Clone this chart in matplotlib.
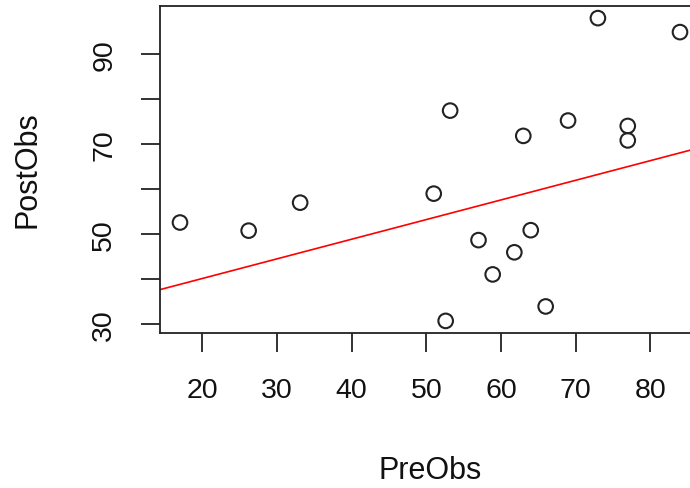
import matplotlib
matplotlib.use("Agg")
import matplotlib.pyplot as plt
import numpy as np

plt.rcParams['font.family'] = ['Liberation Sans', 'DejaVu Sans']

pre_obs = [17, 26.2, 33.1, 51, 53.2, 52.6, 57, 58.9, 61.8, 64, 66, 63, 69, 73, 84, 77, 77]
post_obs = [52.6, 50.8, 57.0, 59.0, 77.4, 30.8, 48.7, 41.1, 46.0, 50.9, 34.0, 71.8, 75.2, 97.9, 94.8, 74.0, 70.8]
line_intercept = 31.5
line_slope = 0.435
x_ticks = [20, 30, 40, 50, 60, 70, 80]
y_ticks = [30, 40, 50, 60, 70, 80, 90]
y_tick_labels = ['30', '', '50', '', '70', '', '90']

W, H = 690, 489
fig = plt.figure(figsize=(W / 100, H / 100), dpi=100)
left, right, top, bottom = 160, 700, 7, 334
ax = fig.add_axes([left / W, 1 - bottom / H, (right - left) / W, (bottom - top) / H])

x = np.array(pre_obs)
y = np.array(post_obs)
xr = x.max() - x.min()
yr = y.max() - y.min()
xlim = (x.min() - 0.04 * xr, x.max() + 0.04 * xr)
ylim = (y.min() - 0.04 * yr, y.max() + 0.04 * yr)

ax.scatter(x, y, s=110, facecolors='none', edgecolors='#222222', linewidths=1.5, zorder=3)
xs = np.array(xlim)
ax.plot(xs, line_intercept + line_slope * xs, color='#ff0000', lw=1.2, zorder=2)

ax.set_xlim(xlim)
ax.set_ylim(ylim)

for side in ['left', 'bottom', 'top', 'right']:
    ax.spines[side].set_linewidth(1.3)
    ax.spines[side].set_color('#222222')

ax.set_xticks(x_ticks)
ax.set_xticklabels([str(t) for t in x_ticks])
ax.set_yticks(y_ticks)
ax.set_yticklabels(y_tick_labels, rotation=90, va='center')
ax.tick_params(axis='both', length=13.7, width=1.3, color='#222222', labelsize=20.5, labelcolor='#111111')
ax.tick_params(axis='x', pad=18)
ax.tick_params(axis='y', pad=17)

fig.text(430 / W, 1 - 471 / H, 'PreObs', ha='center', va='center', fontsize=22, color='#111111')
fig.text(28 / W, 1 - 170 / H, 'PostObs', ha='center', va='center', rotation=90, fontsize=22, color='#111111')

fig.savefig('out.png', dpi=100)
